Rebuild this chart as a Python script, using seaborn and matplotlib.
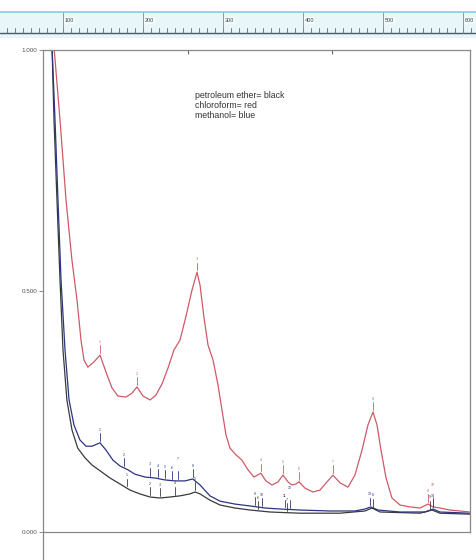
import numpy as np
import pandas as pd
import seaborn as sns
import matplotlib.pyplot as plt
from matplotlib.lines import Line2D

# spectrum data (wavelength nm, absorbance)
red_nm = [215, 223.5, 231.8, 240, 247, 252.5, 256.6, 262, 270.5, 278.8, 287, 295.3, 303.6, 314.7,
          323, 329.9, 338.2, 348, 356, 364.4, 372.7, 381, 389.3, 397.6, 405.9, 412.8, 417, 422.5,
          428, 434.9, 441.8, 447.3, 452.9, 458.4, 466.7, 475, 483.2, 491.5, 501, 508, 516.4, 524.7,
          531.6, 538.5, 544, 549.6, 553.7, 562, 573, 582.7, 592.4, 600.7, 610.4, 621.4, 631, 640.8,
          649, 656, 661.5, 667, 674, 682.2, 693.3, 707, 721, 732, 739, 748.5, 762, 776, 790]
red_abs = [1.01, 0.855, 0.689, 0.564, 0.481, 0.398, 0.357, 0.342, 0.353, 0.367, 0.332, 0.299, 0.282,
           0.280, 0.288, 0.301, 0.282, 0.274, 0.284, 0.307, 0.340, 0.378, 0.398, 0.448, 0.502, 0.539,
           0.512, 0.444, 0.388, 0.357, 0.305, 0.253, 0.201, 0.174, 0.160, 0.149, 0.129, 0.114, 0.122,
           0.106, 0.0975, 0.104, 0.118, 0.104, 0.0975, 0.0996, 0.104, 0.091, 0.083, 0.087, 0.104,
           0.118, 0.102, 0.093, 0.118, 0.170, 0.222, 0.249, 0.222, 0.170, 0.112, 0.0705, 0.056,
           0.052, 0.0498, 0.058, 0.052, 0.0498, 0.0456, 0.0436, 0.0415]

blue_nm = [212.4, 216.6, 220.7, 224.9, 230.4, 236, 242.8, 251, 259.4, 267.7, 278.8, 287, 296.7,
           306.4, 317.4, 327, 341, 354.7, 368.6, 382.4, 396, 407, 417, 430.7, 444.6, 465, 486,
           506.7, 527.5, 555, 596.6, 631, 645, 653, 663, 693, 728, 739, 748.5, 790]
blue_abs = [1.01, 0.855, 0.689, 0.523, 0.378, 0.274, 0.222, 0.191, 0.178, 0.178, 0.185, 0.170,
            0.149, 0.137, 0.129, 0.120, 0.114, 0.112, 0.108, 0.106, 0.106, 0.110, 0.0975, 0.075,
            0.064, 0.058, 0.054, 0.0498, 0.0477, 0.0456, 0.0436, 0.0436, 0.0477, 0.052, 0.0456,
            0.0415, 0.0415, 0.0477, 0.0415, 0.039]

black_nm = [212.4, 215.2, 219.3, 223.5, 227.6, 233, 240, 248, 258, 267.7, 278.8, 292.6, 306.4,
            320.2, 334, 347.8, 361.7, 375.5, 389.3, 403, 410, 417, 430.7, 444.6, 465, 486, 513.6,
            555, 610, 645, 654.5, 665.6, 721, 737.5, 748.5, 790]
black_abs = [1.01, 0.855, 0.689, 0.523, 0.378, 0.274, 0.212, 0.174, 0.154, 0.139, 0.127, 0.112,
             0.0996, 0.087, 0.079, 0.0726, 0.0705, 0.0726, 0.075, 0.079, 0.083, 0.079, 0.066,
             0.056, 0.0498, 0.0456, 0.0415, 0.039, 0.039, 0.0436, 0.0498, 0.0415, 0.039, 0.0456,
             0.039, 0.037]

# picked peaks (nm) marked on the scan
red_peaks = [278.8, 329.9, 412.8, 501.2, 531.6, 553.7, 600.7, 656, 732, 739]
blue_peaks = [278.8, 312, 347.8, 359, 368.6, 378, 386.5, 407, 493, 502.6, 534, 541, 651.8, 739]
black_peaks = [316, 348, 361.7, 382.4, 410, 497, 537, 656, 734.7]

ruler_labels = ['100', '200', '300', '400', '500', '600']
legend_lines = ['petroleum ether= black', 'chloroform= red', 'methanol= blue']

sns.set_style('white')
plt.rcParams['font.family'] = ['Liberation Sans', 'DejaVu Sans']

colors = {'red': '#cf5a66', 'blue': '#2b3580', 'black': '#3a3a3a'}

df = pd.concat([
    pd.DataFrame({'nm': black_nm, 'A': black_abs, 's': 'black'}),
    pd.DataFrame({'nm': blue_nm, 'A': blue_abs, 's': 'blue'}),
    pd.DataFrame({'nm': red_nm, 'A': red_abs, 's': 'red'}),
])

fig = plt.figure(figsize=(4.77, 5.6), dpi=100)
W, H = 477, 560

# main plot
ax = fig.add_axes([43 / W, 1 - 532 / H, (470 - 43) / W, (532 - 50) / H])
for name in ['black', 'blue', 'red']:
    sns.lineplot(data=df[df.s == name], x='nm', y='A', color=colors[name], lw=0.9,
                 ax=ax, sort=False, legend=False)
ax.set_xlim(200, 790)
ax.set_ylim(0, 1.0)
ax.set_yticks([0, 0.5, 1.0])
ax.set_yticklabels(['0.000', '0.500', '1.000'], fontsize=4.5, color='#555555')
ax.set_xticks([400, 600])
ax.set_xticklabels([])
ax.set_xlabel('')
ax.set_ylabel('')
ax.tick_params(axis='y', length=3, width=0.6, color='#777777', pad=1, left=True)
ax.tick_params(axis='x', bottom=False, top=True, direction='in', length=3, width=0.8,
               color='#666666')
for sp in ax.spines.values():
    sp.set_color('#888888')
    sp.set_linewidth(0.9)

# peak marks (labels of close peaks are staggered)
def mark(peaks, nm, a, col):
    prev = -100
    lift = 0
    for i, p in enumerate(peaks, 1):
        y = np.interp(p, nm, a)
        lift = 0.018 if (p - prev < 9 and lift == 0) else 0
        prev = p
        ax.plot([p, p], [y + 0.004, y + 0.02], color=col, lw=0.6)
        ax.text(p, y + 0.023 + lift, str(i), fontsize=2.6, color=col, ha='center', va='bottom')

mark(red_peaks, red_nm, red_abs, colors['red'])
mark(blue_peaks, blue_nm, blue_abs, colors['blue'])
mark(black_peaks, black_nm, black_abs, colors['black'])

ax.text(0.355, 0.915, '\n'.join(legend_lines), transform=ax.transAxes, fontsize=6.3,
        color='#333333', va='top', ha='left', linespacing=1.15)

# left edge line running below the plot
fig.add_artist(Line2D([43 / W, 43 / W], [0, 1 - 532 / H], color='#888888', lw=0.9))

# ruler strip at the top of the scan
axr = fig.add_axes([0, 1 - 38 / H, 1, 26 / H])
axr.set_facecolor('#e9f6f9')
axr.set_xlim(100 - 63 / 0.8, 100 + (W - 63) / 0.8)
axr.set_ylim(0, 1)
axr.set_xticks([])
axr.set_yticks([])
for k, sp in axr.spines.items():
    sp.set_visible(k == 'top')
axr.spines['top'].set_color('#86cbdb')
axr.spines['top'].set_linewidth(1.2)
axr.axhline(0.2, color='#4a5a6a', lw=1.0)
for v in np.arange(20, 620, 10):
    axr.plot([v, v], [0.2, 0.38], color='#5a6a7a', lw=0.6)
for i, lab in enumerate(ruler_labels):
    v = 100 * (i + 1)
    axr.plot([v, v], [0.2, 1.0], color='#7a8a99', lw=0.6)
    axr.text(v + 2.5, 0.68, lab, fontsize=4, color='#444444', va='center', ha='left',
             bbox=dict(boxstyle='square,pad=0.15', fc='#f4fbfc', ec='none'))

fig.savefig('out.png', dpi=100, facecolor='white')
